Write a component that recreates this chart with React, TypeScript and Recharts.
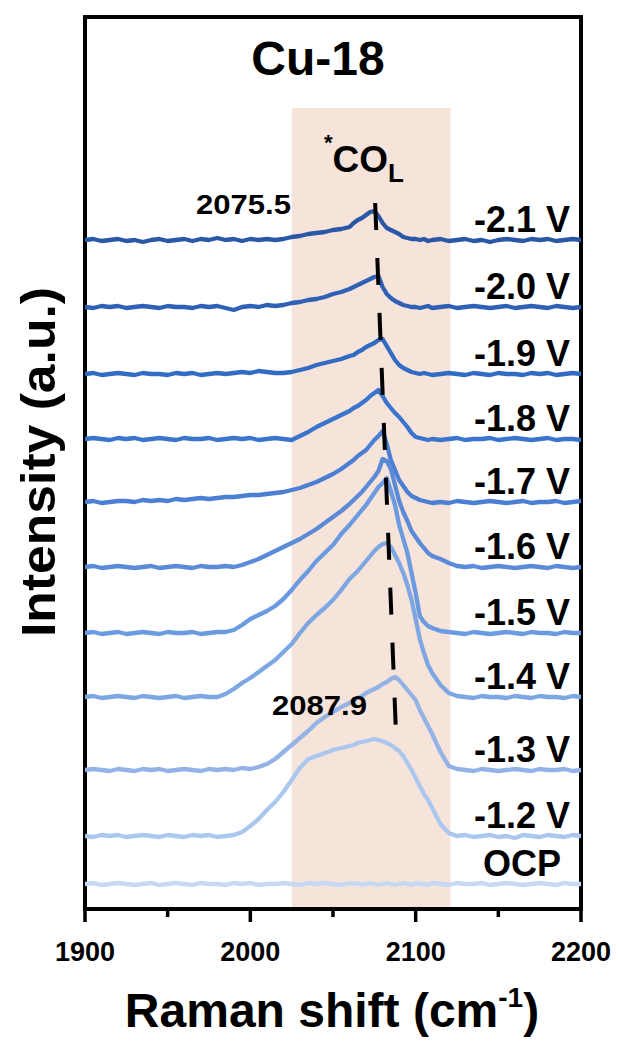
import React from 'react';
import { ComposedChart, Line, XAxis, YAxis, ReferenceArea, ReferenceLine } from 'recharts';

const FONT = '"Liberation Sans", Arial, Helvetica, sans-serif';

// Raman shift grid (cm-1)
const WAVENUMBER = [
  1900, 1905, 1910, 1915, 1920, 1925, 1930, 1935, 1940, 1945, 1950, 1955, 1960, 1965, 1970, 1975, 1980,
  1985, 1990, 1995, 2000, 2005, 2010, 2015, 2020, 2025, 2030, 2035, 2040, 2045, 2050, 2055, 2060,
  2062.5, 2065, 2067.5, 2070, 2072.5, 2075, 2077.5, 2080, 2082.5, 2085, 2087.5, 2090, 2092.5, 2095,
  2097.5, 2100, 2102.5, 2105, 2107.5, 2110,
  2115, 2120, 2125, 2130, 2135, 2140, 2145, 2150, 2155, 2160, 2165, 2170, 2175, 2180, 2185, 2190, 2195, 2200,
];

const POTENTIALS = ['-2.1 V', '-2.0 V', '-1.9 V', '-1.8 V', '-1.7 V', '-1.6 V', '-1.5 V', '-1.4 V', '-1.3 V', '-1.2 V', 'OCP'];
const OFFSETS = [669, 602, 535, 470, 407, 342, 276, 212, 139, 73, 25];
const COLORS = ['#2b58a6', '#2e61b6', '#316bc3', '#3b74cc', '#4a7fd3', '#5a8ad8', '#6a9be1', '#7da7e3', '#93b3e7', '#aac8ef', '#c6d8f3'];

const I_21 = [
  0, 1, -1, 0, 1, -1, 0, -2, 0, 1, -1, 0, 1, -1, 1, 0, 2, 0, 1, -1, 1, 0, 1, 0, 1, 3, 4, 6, 7, 8, 10, 11, 13,
  17, 20, 22, 25, 28, 29, 24, 17, 12, 10, 8, 6, 3, 2, 1, 1, 0, 1, -1, 0,
  1, -1, 0, 1, -1, 0, -2, 0, 1, 0, -1, 1, 0, 1, -1, 0, 1, 0,
];
const I_20 = [
  0, -1, 1, 0, 1, -1, 0, 1, 0, -1, 1, 0, 0, -1, 1, 0, 1, -1, -3, 0, 1, 0, 2, 1, 2, 4, 5, 7, 8, 10, 13, 15, 18,
  20, 22, 24, 26, 28, 30, 31, 20, 13, 9, 6, 4, 2, 1, 0, 0, -1, 0, 1, -1,
  0, 1, -1, 0, 1, 0, -1, 0, 1, -1, 0, 1, 0, -1, 1, 0, -1, 0,
];
const I_19 = [
  0, 1, -1, 0, 1, 0, -1, 1, 0, 0, -1, 1, 0, 1, -1, 0, 1, 0, 1, 2, 1, 3, 2, 1, 1, 2, 4, 6, 9, 11, 13, 15, 18,
  19, 22, 24, 27, 29, 31, 34, 35, 28, 21, 14, 9, 6, 4, 2, 1, 0, 1, 0, -1,
  0, 1, 0, -1, 1, 0, -1, 1, 0, 0, -1, 1, 0, 1, -1, 0, 1, 0,
];
const I_18 = [
  0, 1, 0, -1, 1, 0, 1, -1, 0, 1, 0, -1, 1, 0, 0, 1, -1, 0, 1, 0, 1, -1, 0, 1, 0, -1, 3, 7, 12, 16, 20, 24, 28,
  31, 33, 36, 39, 43, 46, 49, 43, 36, 31, 26, 22, 17, 12, 6, 2, 1, 0, -1, 0,
  -1, 0, 1, -1, 0, 0, 1, -1, 0, 1, 0, -1, 0, 1, -1, 0, 0, -1,
];
const I_17 = [
  0, 1, -1, 0, 1, 1, 0, 2, 1, 2, 1, 3, 2, 3, 4, 3, 4, 5, 5, 6, 7, 7, 8, 9, 10, 12, 14, 17, 20, 24, 28, 33, 39,
  42, 46, 49, 52, 57, 62, 66, 71, 58, 42, 32, 22, 16, 10, 6, 4, 2, 1, 0, -1,
  0, -1, 1, 0, -1, 0, 1, 0, -1, 0, 1, -1, 0, 0, 1, -1, 0, 1,
];
const I_16 = [
  0, 1, -1, 0, 1, 0, -1, 0, 1, -1, 0, 1, 0, -1, 1, 0, 0, 1, 0, 2, 5, 8, 12, 16, 20, 24, 28, 33, 38, 44, 50, 56, 63,
  67, 71, 75, 80, 85, 90, 96, 108, 106, 98, 82, 66, 55, 46, 36, 30, 24, 19, 14, 11,
  8, 4, 1, 0, 1, -1, 0, 1, 0, -1, 0, 1, 0, -1, 1, 0, -1, 0,
];
const I_15 = [
  0, 1, -1, 0, 1, -1, 0, 1, 0, -1, 1, 0, 0, 1, -1, 0, 1, 1, 3, 8, 14, 18, 22, 27, 34, 43, 53, 62, 72, 80, 88, 99, 108,
  113, 118, 123, 128, 134, 140, 146, 150, 155, 142, 128, 108, 94, 80, 60, 40, 17, 11, 7, 5,
  2, 1, 0, -1, 1, 0, -1, 0, 1, 0, -1, 1, 0, 0, -1, 1, 0, 0,
];
const I_14 = [
  0, 1, -1, 0, 1, 0, -1, 1, 0, -1, 0, 1, -1, 0, 1, 0, 0, 3, 8, 14, 19, 25, 31, 37, 45, 53, 64, 74, 82, 89, 97, 107, 118,
  122, 126, 131, 136, 141, 146, 150, 153, 154, 150, 142, 134, 124, 112, 97, 78, 58, 44, 32, 24,
  12, 4, 1, 0, -1, 1, 0, 0, -1, 1, 0, -1, 1, 0, 0, -1, 1, 0,
];
const I_13 = [
  0, 1, 0, -1, 1, 0, -1, 1, 0, 1, -1, 0, 1, 0, -1, 1, 0, 1, 0, 2, 1, 3, 6, 11, 18, 25, 32, 39, 47, 53, 58, 63, 67,
  70, 72, 74, 77, 79, 81, 83, 86, 88, 91, 93, 90, 85, 80, 75, 70, 60, 52, 44, 36,
  18, 4, 1, 0, -1, 1, 0, -1, 0, 1, 0, -1, 1, 0, 0, 1, -1, 0,
];
const I_12 = [
  0, -1, 1, 0, 1, -1, 0, 1, 0, -1, 1, 0, -1, 1, 0, 1, -1, 0, 1, 4, 10, 17, 26, 34, 44, 56, 68, 77, 80, 83, 86, 88, 90,
  91, 93, 94, 95, 96, 97, 96, 95, 93, 91, 88, 85, 80, 73, 66, 58, 50, 42, 36, 28,
  12, 3, 0, 1, -1, 0, 1, -1, 0, -2, 1, 0, -1, 1, 0, -1, 1, 0,
];
const I_OCP = [
  0, 1, -1, 0, 1, 0, -1, 0, 1, -1, 0, 1, 0, -1, 1, 0, 0, -1, 1, 0, 1, -1, 0, 0, 1, 0, -1, 1, 0, 1, 0, -1, 1,
  0, 1, -1, 0, 1, 0, -1, 0, 1, 0, -1, 0, 1, 0, -1, 1, 0, 0, -1, 1,
  0, -1, 1, 0, 0, 1, -1, 0, 1, 0, -1, 0, 1, 0, -1, 1, 0, 0,
];

const INTENSITIES = [I_21, I_20, I_19, I_18, I_17, I_16, I_15, I_14, I_13, I_12, I_OCP];

const X_TICKS = [1900, 1950, 2000, 2050, 2100, 2150, 2200];
const X_DOMAIN = [1900, 2200];
const Y_DOMAIN = [0, 892];
const CO_BAND = [2025, 2121];
const CO_BAND_TOP = 801;
const PEAK_SHIFTS = [2075.5, 2087.9];
const PEAK_LINE_Y = [706, 184];

const W = 619;
const H = 1048;
const PLOT = { left: 85, top: 17, right: 581, bottom: 909 };

const series = INTENSITIES.map((vals, k) =>
  WAVENUMBER.map((x, i) => ({ x, y: OFFSETS[k] + vals[i] }))
);

const yToPx = (v: number) => PLOT.bottom - ((v - Y_DOMAIN[0]) / (Y_DOMAIN[1] - Y_DOMAIN[0])) * (PLOT.bottom - PLOT.top);

const XTick = (props: any) => {
  const { x, y, payload } = props;
  const v = payload.value;
  const major = v % 100 === 0;
  return (
    <g>
      <line x1={x} x2={x} y1={y} y2={y + (major ? 13 : 8)} stroke="#000" strokeWidth={3.5} />
      {major && (
        <text x={x} y={y + 52} textAnchor="middle" fontSize={27} fontWeight="bold" fontFamily={FONT} fill="#000">
          {v}
        </text>
      )}
    </g>
  );
};

export default function App() {
  return (
    <div style={{ position: 'relative', width: W, height: H, background: '#fff' }}>
      <style>{`body{margin:0;background:#fff}`}</style>
      <ComposedChart
        width={W}
        height={H}
        margin={{ top: PLOT.top, right: W - PLOT.right, left: PLOT.left, bottom: 0 }}
      >
        <XAxis
          dataKey="x"
          type="number"
          domain={X_DOMAIN}
          ticks={X_TICKS}
          interval={0}
          height={H - PLOT.bottom}
          axisLine={false}
          tickLine={false}
          tickSize={0}
          tickMargin={0}
          tick={<XTick />}
          allowDataOverflow
        />
        <YAxis type="number" domain={Y_DOMAIN} hide allowDataOverflow />
        <ReferenceArea
          x1={CO_BAND[0]}
          x2={CO_BAND[1]}
          y1={Y_DOMAIN[0]}
          y2={CO_BAND_TOP}
          fill="#f6e3da"
          fillOpacity={1}
          stroke="none"
        />
        {series.map((d, k) => (
          <Line
            key={POTENTIALS[k]}
            data={d}
            dataKey="y"
            type="linear"
            stroke={COLORS[k]}
            strokeWidth={4.3}
            strokeLinejoin="round"
            dot={false}
            activeDot={false}
            isAnimationActive={false}
          />
        ))}
        <ReferenceLine
          segment={[
            { x: PEAK_SHIFTS[0], y: PEAK_LINE_Y[0] },
            { x: PEAK_SHIFTS[1], y: PEAK_LINE_Y[1] },
          ]}
          stroke="#000"
          strokeWidth={4}
          strokeDasharray="27 28"
        />
        <ReferenceArea
          x1={X_DOMAIN[0]}
          x2={X_DOMAIN[1]}
          y1={Y_DOMAIN[0]}
          y2={Y_DOMAIN[1]}
          fill="none"
          stroke="#000"
          strokeWidth={4}
        />
      </ComposedChart>
      <svg
        width={W}
        height={H}
        style={{ position: 'absolute', left: 0, top: 0, pointerEvents: 'none' }}
        fontFamily={FONT}
        fontWeight="bold"
      >
        <text x={318} y={75} textAnchor="middle" fontSize={48} fill="#000">Cu-18</text>
        <text x={324} y={172} fontSize={37} fill="#000">
          <tspan fontSize={22} dy={-22}>*</tspan>
          <tspan dy={22}>CO</tspan>
          <tspan fontSize={26} dy={10}>L</tspan>
        </text>
        <text x={196} y={214} fontSize={28} fill="#000" textLength={95} lengthAdjust="spacingAndGlyphs">
          {PEAK_SHIFTS[0].toFixed(1)}
        </text>
        <text x={272} y={715} fontSize={28} fill="#000" textLength={95} lengthAdjust="spacingAndGlyphs">
          {PEAK_SHIFTS[1].toFixed(1)}
        </text>
        {POTENTIALS.map((p, k) => (
          <text key={p} x={522} y={yToPx(OFFSETS[k]) - 8} textAnchor="middle" fontSize={36} fill="#000">
            {p}
          </text>
        ))}
        <text
          transform="rotate(-90)"
          x={-462}
          y={55}
          textAnchor="middle"
          fontSize={48}
          fill="#000"
          textLength={350}
          lengthAdjust="spacingAndGlyphs"
        >
          Intensity (a.u.)
        </text>
        <text x={332} y={1027} textAnchor="middle" fontSize={48} fill="#000">
          Raman shift (cm<tspan fontSize={28} dy={-20}>-1</tspan><tspan dy={20}>)</tspan>
        </text>
      </svg>
    </div>
  );
}
